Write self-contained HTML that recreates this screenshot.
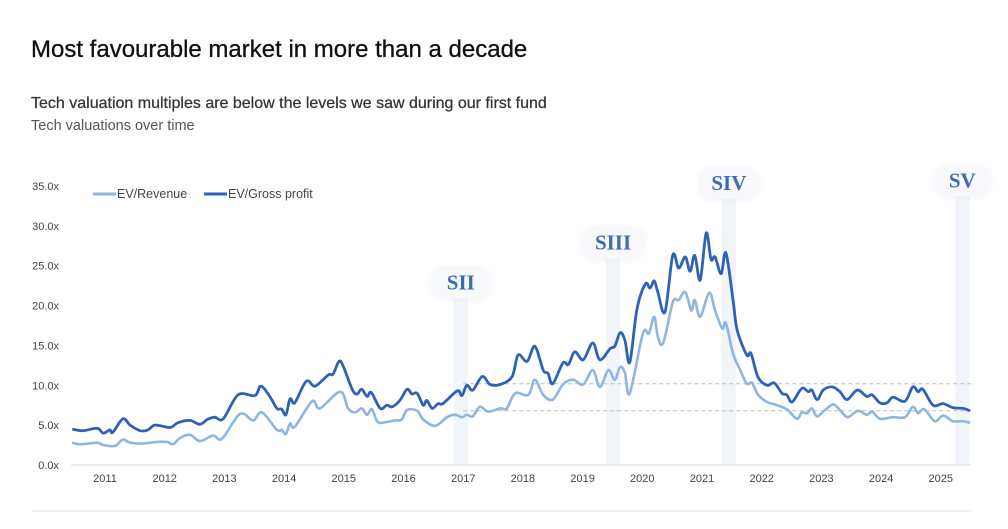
<!DOCTYPE html>
<html><head><meta charset="utf-8">
<style>
html,body{margin:0;padding:0;background:#fff;}
body{width:1008px;height:529px;overflow:hidden;font-family:"Liberation Sans",sans-serif;position:relative;}
.t{position:absolute;left:31px;white-space:nowrap;}
</style></head>
<body>
<div class="t" style="top:36px;font-size:24px;color:#111;-webkit-text-stroke:0.3px #111;">Most favourable market in more than a decade</div>
<div class="t" style="top:95px;font-size:16px;color:#333;-webkit-text-stroke:0.25px #333;">Tech valuation multiples are below the levels we saw during our first fund</div>
<div class="t" style="top:118px;font-size:14.5px;color:#555;">Tech valuations over time</div>
<svg id="chart" width="1008" height="529" style="position:absolute;left:0;top:0;" xmlns="http://www.w3.org/2000/svg"></svg>
<script>
const yTicks=[0,5,10,15,20,25,30,35];
const yTickLabels=["0.0x","5.0x","10.0x","15.0x","20.0x","25.0x","30.0x","35.0x"];
const xYears=[2011,2012,2013,2014,2015,2016,2017,2018,2019,2020,2021,2022,2023,2024,2025];
const gpDates=[2010.45,2010.63,2010.87,2010.97,2011.08,2011.13,2011.30,2011.42,2011.59,2011.72,2011.84,2012.09,2012.22,2012.42,2012.59,2012.71,2012.84,2012.98,2013.23,2013.51,2013.61,2013.76,2013.88,2013.96,2014.03,2014.10,2014.18,2014.37,2014.52,2014.74,2014.82,2014.92,2014.99,2015.14,2015.22,2015.30,2015.39,2015.46,2015.61,2015.72,2015.81,2015.94,2016.06,2016.14,2016.23,2016.33,2016.39,2016.48,2016.58,2016.66,2016.90,2016.98,2017.06,2017.16,2017.32,2017.45,2017.62,2017.82,2017.92,2018.07,2018.20,2018.34,2018.42,2018.50,2018.67,2018.76,2018.87,2019.01,2019.17,2019.29,2019.46,2019.54,2019.63,2019.71,2019.79,2019.91,2020.05,2020.13,2020.20,2020.26,2020.38,2020.51,2020.61,2020.72,2020.80,2020.88,2020.97,2021.07,2021.15,2021.22,2021.32,2021.40,2021.52,2021.59,2021.75,2021.82,2021.94,2022.09,2022.21,2022.34,2022.42,2022.51,2022.67,2022.78,2022.84,2022.93,2023.03,2023.18,2023.31,2023.43,2023.60,2023.76,2023.85,2023.98,2024.10,2024.20,2024.40,2024.53,2024.62,2024.70,2024.87,2025.04,2025.20,2025.37,2025.49];
const gpValues=[4.5,4.3,4.6,4.0,4.4,4.1,5.8,5.0,4.3,4.4,5.0,4.7,5.3,5.6,5.1,5.7,6.0,5.8,8.8,8.7,9.9,8.6,7.1,7.0,6.3,8.3,7.8,10.5,9.9,11.3,11.4,13.0,12.4,9.5,8.9,9.5,8.6,9.1,7.1,7.5,7.3,8.1,9.5,8.9,9.0,7.5,8.1,7.1,7.7,7.7,9.3,8.7,10.0,9.4,11.1,10.1,10.1,11.1,13.8,13.0,14.9,11.9,11.5,10.2,12.8,12.6,14.2,13.2,15.3,13.2,14.6,14.9,16.6,15.6,12.9,19.5,22.7,22.2,23.1,21.7,19.2,26.3,24.7,26.1,24.3,26.3,23.2,29.1,25.8,26.1,24.0,26.6,20.7,16.9,13.8,14.0,11.0,10.0,10.3,9.0,8.8,7.9,9.6,9.2,9.4,8.2,9.4,9.8,9.2,8.2,9.4,8.6,8.8,7.8,7.8,8.5,8.0,9.8,9.2,9.5,7.5,7.7,7.2,7.1,6.8];
const revDates=[2010.45,2010.58,2010.87,2010.97,2011.17,2011.30,2011.42,2011.64,2011.87,2012.04,2012.14,2012.26,2012.42,2012.59,2012.81,2012.96,2013.26,2013.48,2013.63,2013.88,2013.96,2014.03,2014.10,2014.18,2014.47,2014.60,2014.94,2015.07,2015.19,2015.30,2015.39,2015.47,2015.57,2015.72,2015.86,2015.97,2016.06,2016.23,2016.33,2016.53,2016.73,2016.86,2016.98,2017.06,2017.16,2017.28,2017.42,2017.62,2017.73,2017.87,2018.09,2018.20,2018.34,2018.50,2018.67,2018.84,2019.01,2019.17,2019.29,2019.43,2019.54,2019.63,2019.71,2019.79,2020.01,2020.11,2020.20,2020.26,2020.35,2020.51,2020.61,2020.72,2020.82,2020.88,2020.97,2021.12,2021.22,2021.34,2021.40,2021.52,2021.64,2021.75,2021.84,2021.94,2022.09,2022.22,2022.42,2022.59,2022.67,2022.76,2022.84,2022.93,2023.06,2023.20,2023.31,2023.44,2023.61,2023.76,2023.85,2023.98,2024.20,2024.40,2024.53,2024.62,2024.72,2024.90,2025.04,2025.20,2025.37,2025.49];
const revValues=[2.8,2.6,2.8,2.5,2.4,3.2,2.8,2.7,2.9,2.9,2.6,3.4,3.8,3.0,3.7,3.3,6.4,5.6,6.6,4.4,4.4,3.9,5.2,4.8,8.0,7.1,9.2,7.1,6.6,7.1,6.3,7.0,5.4,5.4,5.6,5.7,6.9,6.8,5.7,4.9,6.0,6.3,6.0,6.3,6.1,7.3,6.7,7.1,7.1,9.0,8.8,10.7,8.8,8.2,10.1,10.7,10.1,11.9,9.8,11.9,10.7,12.3,11.5,9.0,16.5,16.5,18.6,16.1,15.3,20.4,20.7,21.7,19.4,20.7,18.6,21.6,19.4,17.1,17.8,14.0,11.9,10.2,10.3,8.8,7.9,7.6,7.0,5.8,6.6,6.5,7.1,6.1,6.9,7.6,6.9,6.0,6.8,6.3,6.7,5.8,6.0,6.0,7.3,6.5,7.0,5.5,6.2,5.5,5.5,5.3];
const refLevels=[10.2,6.8];
const funds=["SII","SIII","SIV","SV"];
const fundDates=[2016.96,2019.51,2021.45,2025.36];
const fundLabelValues=[22.9,27.9,35.4,35.7];

const NS="http://www.w3.org/2000/svg";
const svg=document.getElementById('chart');
const X0=71,X1=971,Y0=465,YTOP=186;
const xs=t=>105+(t-2011)*59.7;
const ys=v=>Y0-(v/35)*(Y0-YTOP);
function mk(tag,at,parent){const e=document.createElementNS(NS,tag);for(const k in at)e.setAttribute(k,at[k]);(parent||svg).appendChild(e);return e;}

const defs=mk('defs',{});
const f=mk('filter',{id:'sh',x:'-30%',y:'-50%',width:'160%',height:'200%'},defs);
mk('feDropShadow',{dx:0,dy:1,stdDeviation:3,'flood-color':'#b5c4da','flood-opacity':0.2},f);
funds.forEach((n,i)=>{
  const cx=xs(fundDates[i]),cy=ys(fundLabelValues[i]);
  const band=mk('rect',{x:cx-7,y:cy+14,width:14,height:Y0-cy-14,fill:'#f1f5fa'});
  
  
  const w=n.length>3?64:(n.length>2?60:56);
  const pill=mk('rect',{x:cx-w/2,y:cy-16,width:w,height:32,rx:14,fill:'#f7f9fc',filter:'url(#sh)'});
  
  
  const t=mk('text',{x:cx,y:cy+7,'text-anchor':'middle','font-family':'"Liberation Serif",serif','font-size':21,'font-weight':'bold',fill:'#3d6bb0'});
  t.textContent=n;
  
  
});

yTicks.forEach((v,i)=>{
  const t=mk('text',{x:59,y:ys(v)+4,'text-anchor':'end','font-size':11,fill:'#444'});
  t.textContent=yTickLabels[i];
  
  
});
const base=mk('line',{x1:X0,x2:X1,y1:Y0,y2:Y0,stroke:'#dcdcdc','stroke-width':1});


xYears.forEach(yr=>{
  const t=mk('text',{x:xs(yr),y:482,'text-anchor':'middle','font-size':11,fill:'#444'});
  t.textContent=yr;
  
  
});

refLevels.forEach(v=>{
  const l=mk('line',{x1:xs(2017.0),x2:X1,y1:ys(v),y2:ys(v),stroke:'#bdbdbd','stroke-width':1,'stroke-dasharray':'4 3'});
  
  
});

function smooth(dates,vals){
  const p=dates.map((d,i)=>[xs(d),ys(vals[i])]);
  let s='M'+p[0][0].toFixed(1)+','+p[0][1].toFixed(1);
  for(let i=0;i<p.length-1;i++){
    const p0=p[Math.max(0,i-1)],p1=p[i],p2=p[i+1],p3=p[Math.min(p.length-1,i+2)];
    const c1=[p1[0]+(p2[0]-p0[0])/6,p1[1]+(p2[1]-p0[1])/6];
    const c2=[p2[0]-(p3[0]-p1[0])/6,p2[1]-(p3[1]-p1[1])/6];
    s+='C'+c1[0].toFixed(1)+','+c1[1].toFixed(1)+' '+c2[0].toFixed(1)+','+c2[1].toFixed(1)+' '+p2[0].toFixed(1)+','+p2[1].toFixed(1);
  }
  return s;
}
const lr=mk('path',{d:smooth(revDates,revValues),fill:'none',stroke:'#8fb5e1','stroke-width':2.6,'stroke-linejoin':'round'});


const lg=mk('path',{d:smooth(gpDates,gpValues),fill:'none',stroke:'#2e62b7','stroke-width':2.8,'stroke-linejoin':'round'});



const g1=mk('g',{});


mk('line',{x1:93,x2:116,y1:194,y2:194,stroke:'#8fb5e1','stroke-width':3},g1);
const lt1=mk('text',{x:117,y:198,'font-size':12.5,fill:'#444'},g1);lt1.textContent='EV/Revenue';
const g2=mk('g',{});


mk('line',{x1:204,x2:227,y1:194,y2:194,stroke:'#2e62b7','stroke-width':3},g2);
const lt2=mk('text',{x:228,y:198,'font-size':12.5,fill:'#444'},g2);lt2.textContent='EV/Gross profit';

const bl=mk('line',{x1:31,x2:972,y1:511,y2:511,stroke:'#e6e6e6','stroke-width':1});


</script>
</body></html>
